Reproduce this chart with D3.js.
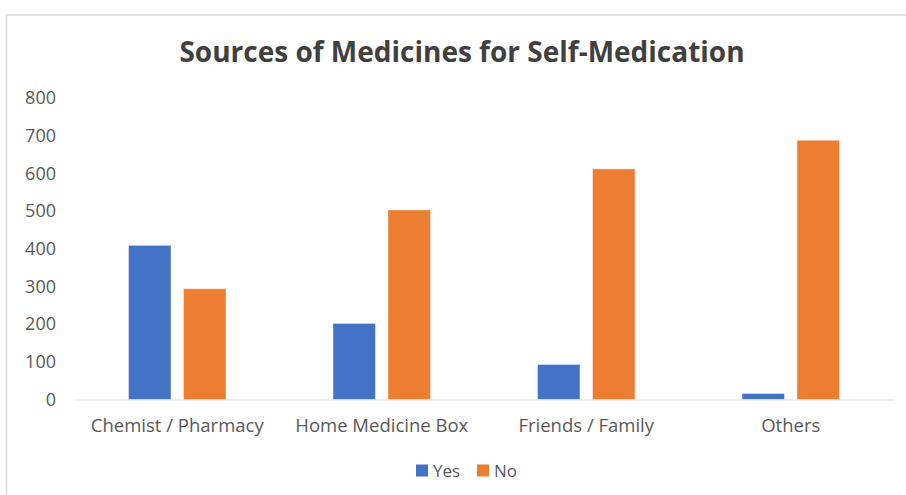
<!DOCTYPE html>
<html>
<head>
<meta charset="utf-8">
<script src="https://cdn.jsdelivr.net/npm/d3@7"></script>
<style>
  html, body { margin: 0; padding: 0; background: #fff; }
  svg { display: block; }
</style>
</head>
<body>
<svg id="chart" width="906" height="495"></svg>
<script>
// Sources of medicines used for self-medication, split by Yes / No answers
const categories = ["Chemist / Pharmacy", "Home Medicine Box", "Friends / Family", "Others"];
const seriesNames = ["Yes", "No"];
const yesValues = [409, 202, 93, 16];
const noValues = [294, 503, 612, 688];
const yTicks = [0, 100, 200, 300, 400, 500, 600, 700, 800];

const colors = { Yes: "#4472C4", No: "#ED7D31" };
const fontFamily = "'Open Sans', 'Segoe UI', sans-serif";

const svg = d3.select("#chart");
const width = 906, height = 495;
const margin = { left: 75, right: 13, top: 98, bottom: 95.5 };

// outer frame of the chart area
svg.append("rect")
  .attr("x", 6.5).attr("y", 15)
  .attr("width", 910).attr("height", 500)
  .attr("fill", "#fff")
  .attr("stroke", "#d9d9d9")
  .attr("stroke-width", 1.5);

const rows = categories.map((c, i) => ({ category: c, Yes: yesValues[i], No: noValues[i] }));

const x0 = d3.scaleBand()
  .domain(categories)
  .range([margin.left, width - margin.right])
  .paddingInner(0.523)
  .paddingOuter(0.2615);

const x1 = d3.scaleBand()
  .domain(seriesNames)
  .range([0, x0.bandwidth()])
  .paddingInner(0.227)
  .paddingOuter(0);

const y = d3.scaleLinear()
  .domain([0, 800])
  .range([height - margin.bottom, margin.top]);

// title
svg.append("text")
  .attr("x", 462).attr("y", 62)
  .attr("text-anchor", "middle")
  .attr("font-family", fontFamily)
  .attr("font-weight", "bold")
  .attr("font-size", 28)
  .attr("fill", "#404040")
  .text("Sources of Medicines for Self-Medication");

// y axis labels (no axis line, no gridlines)
const yAxis = d3.axisLeft(y).tickValues(yTicks).tickSize(0).tickPadding(0);
const yg = svg.append("g")
  .attr("transform", `translate(56,0)`)
  .call(yAxis);
yg.select(".domain").remove();
yg.selectAll("text")
  .attr("font-family", fontFamily)
  .attr("font-size", 18)
  .attr("fill", "#595959");

// bars
const groups = svg.append("g").selectAll("g")
  .data(rows)
  .join("g")
  .attr("transform", d => `translate(${x0(d.category)},0)`);

groups.selectAll("rect")
  .data(d => seriesNames.map(s => ({ key: s, value: d[s] })))
  .join("rect")
  .attr("x", d => x1(d.key))
  .attr("width", x1.bandwidth())
  .attr("y", d => y(d.value))
  .attr("height", d => y(0) - y(d.value))
  .attr("fill", d => colors[d.key])
  .attr("stroke", "#ffffff")
  .attr("stroke-opacity", 0.45)
  .attr("stroke-width", 1);

// x axis baseline and category labels
const xAxis = d3.axisBottom(x0).tickSize(0).tickPadding(0);
const xg = svg.append("g")
  .attr("transform", `translate(0,${y(0)})`)
  .call(xAxis);
xg.select(".domain")
  .attr("stroke", "#d9d9d9")
  .attr("stroke-width", 1.2);
xg.selectAll("text")
  .attr("dy", 0)
  .attr("y", 32)
  .attr("font-family", fontFamily)
  .attr("font-size", 18.5)
  .attr("fill", "#595959");

// legend
const legendItems = [
  { key: "Yes", x: 416 },
  { key: "No", x: 477 }
];
const legend = svg.append("g");
legendItems.forEach(item => {
  legend.append("rect")
    .attr("x", item.x).attr("y", 464.5)
    .attr("width", 12).attr("height", 12)
    .attr("fill", colors[item.key]);
  legend.append("text")
    .attr("x", item.x + 17).attr("y", 476.5)
    .attr("font-family", fontFamily)
    .attr("font-size", 17)
    .attr("fill", "#595959")
    .text(item.key);
});
</script>
</body>
</html>
